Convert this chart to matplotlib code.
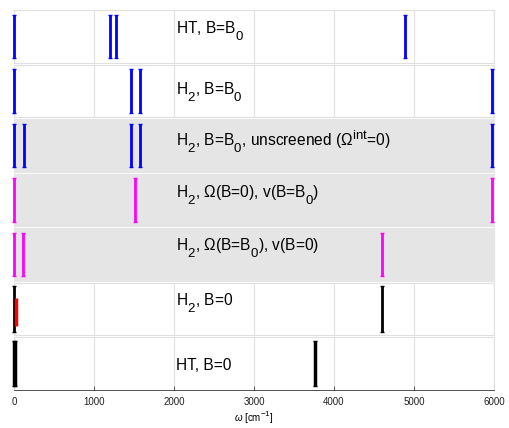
import matplotlib
matplotlib.use("Agg")
import matplotlib.pyplot as plt
import matplotlib._mathtext as _mt

plt.rcParams['font.family'] = ['Liberation Sans', 'DejaVu Sans']
plt.rcParams['mathtext.fontset'] = 'custom'
plt.rcParams['mathtext.rm'] = 'Liberation Sans'
plt.rcParams['mathtext.it'] = 'Liberation Sans:italic'
plt.rcParams['mathtext.bf'] = 'Liberation Sans:bold'
# MATLAB-like larger, lower subscripts
_mt.SHRINK_FACTOR = 0.85
_mt.FontConstantsBase.sub1 = 0.8
_mt.FontConstantsBase.sub2 = 0.9

labels = [
    "HT, B=B$_0$",
    "H$_2$, B=B$_0$",
    "H$_2$, B=B$_0$, unscreened ($\\Omega^{\\rm int}$=0)",
    "H$_2$, $\\Omega$(B=0), v(B=B$_0$)",
    "H$_2$, $\\Omega$(B=B$_0$), v(B=0)",
    "H$_2$, B=0",
    "HT, B=0",
]
label_y = [0.556, 0.426, 0.487, 0.537, 0.561, 0.556, 0.38]
shaded = [False, False, True, True, True, False, False]

# frequencies (cm^-1) per panel
freqs = [
    [0, 1200, 1275, 4887],
    [0, 1458, 1575, 5980],
    [0, 129, 1458, 1575, 5980],
    [0, 1517, 5980],
    [0, 117, 4604],
    [0, 4604],
    [0, 12, 3762],
]
colors = [
    ['#0000ff'] * 4,
    ['#0000ff'] * 4,
    ['#0000ff'] * 5,
    ['#ff00ff'] * 3,
    ['#ff00ff'] * 3,
    ['black', 'black'],
    ['black', 'black', 'black'],
]
widths = [
    [2, 2, 2, 2],
    [2, 2, 2, 2],
    [2, 2, 2, 2, 2],
    [2, 2, 2],
    [2, 2, 2],
    [2, 2],
    [2.5, 2.5, 2.5],
]
lo = [
    [0.09] * 4, [0.09] * 4, [0.09] * 5, [0.09] * 3, [0.09] * 3,
    [0.07, 0.07], [0.07, 0.07, 0.07],
]
hi = [
    [0.91] * 4, [0.91] * 4, [0.91] * 5, [0.91] * 3, [0.91] * 3,
    [0.93, 0.93], [0.93, 0.93, 0.93],
]
# red extra line in H2, B=0 panel
red_freq = [25]
red_lo = [0.185]
red_hi = [0.71]

xticks = [0, 1000, 2000, 3000, 4000, 5000, 6000]

fig = plt.figure(figsize=(5.10, 4.28), dpi=100)
n = len(labels)
gs = fig.add_gridspec(n, 1, left=14/510, right=494/510, top=1-10/428,
                      bottom=1-390/428, hspace=0.03)
for i in range(n):
    ax = fig.add_subplot(gs[i])
    ax.set_xlim(0, 6000)
    ax.set_ylim(0, 1)
    if shaded[i]:
        ax.set_facecolor('#e5e5e5')
        for s in ax.spines.values():
            s.set_color('#e5e5e5')
    else:
        ax.set_facecolor('white')
        ax.grid(True, axis='x', color='#e3e3e3', lw=0.9)
        for s in ax.spines.values():
            s.set_color('#e0e0e0')
    ax.set_axisbelow(True)
    for f, c, w, a, b in zip(freqs[i], colors[i], widths[i], lo[i], hi[i]):
        ax.plot([f, f], [a, b], color=c, lw=w, solid_capstyle='butt',
                clip_on=False, zorder=5)
        ax.plot([f, f], [a, b], ls='none', marker='_', ms=2.5, mew=1, color=c,
                clip_on=False, zorder=5)
    if i == 5:
        for f, a, b in zip(red_freq, red_lo, red_hi):
            ax.plot([f, f], [a, b], color='#ff0000', lw=2.5, solid_capstyle='butt',
                    clip_on=False, zorder=6)
    ax.text(2020, label_y[i], labels[i], fontsize=11.2, va='baseline', ha='left')
    ax.set_yticks([1])
    ax.tick_params(axis='y', direction='in', length=3, width=0.6, color='#333333',
                   labelleft=False)
    ax.set_xticks(xticks)
    if i < n - 1:
        ax.tick_params(axis='x', length=0, labelbottom=False)
    else:
        ax.spines['bottom'].set_color('#333333')
        ax.spines['bottom'].set_linewidth(0.6)
        ax.tick_params(axis='x', direction='in', length=3, width=0.6,
                       color='#333333', labelsize=7, pad=5, labelcolor='#222222')
        ax.set_xlabel("$\\omega$ [cm$^{-1}$]", fontsize=7, labelpad=1)

fig.savefig("out.png", dpi=100)
